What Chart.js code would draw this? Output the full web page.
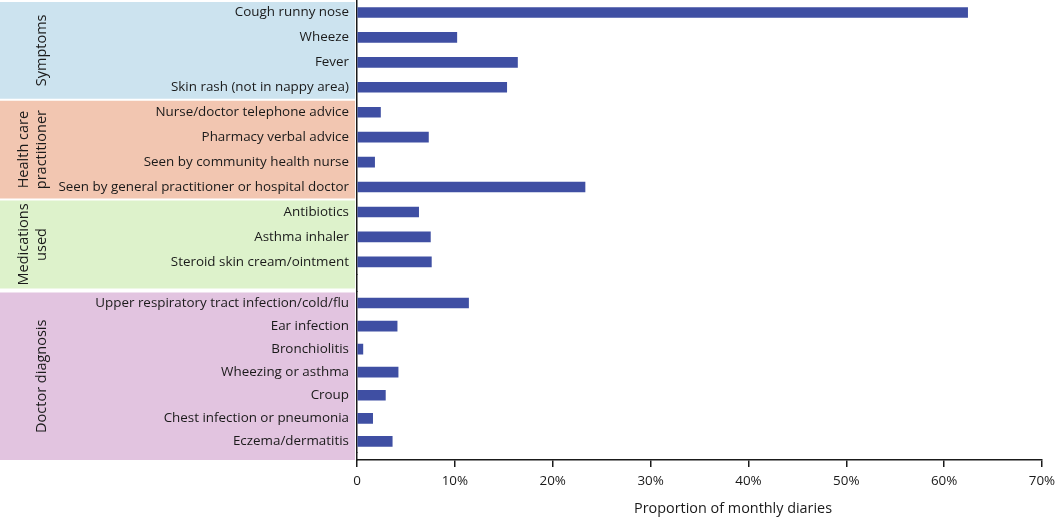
<!DOCTYPE html>
<html>
<head>
<meta charset="utf-8">
<script src="https://cdn.jsdelivr.net/npm/chart.js@4"></script>
<style>
  html, body { margin: 0; padding: 0; background: #fff; }
  #wrap { width: 1064px; height: 517px; position: relative; }
</style>
</head>
<body>
<div id="wrap"><canvas id="diaries"></canvas></div>
<script>
// data (percent of monthly diaries)
const upper_labels = [
    'Cough runny nose',
    'Wheeze',
    'Fever',
    'Skin rash (not in nappy area)',
    'Nurse/doctor telephone advice',
    'Pharmacy verbal advice',
    'Seen by community health nurse',
    'Seen by general practitioner or hospital doctor',
    'Antibiotics',
    'Asthma inhaler',
    'Steroid skin cream/ointment'
]
const upper_values = [62.4, 10.2, 16.4, 15.3, 2.4, 7.3, 1.8, 23.3, 6.3, 7.5, 7.6]

const lower_labels = [
    'Upper respiratory tract infection/cold/flu',
    'Ear infection',
    'Bronchiolitis',
    'Wheezing or asthma',
    'Croup',
    'Chest infection or pneumonia',
    'Eczema/dermatitis'
]
const lower_values = [11.4, 4.1, 0.6, 4.2, 2.9, 1.6, 3.6]

const group_names = [['Symptoms'], ['Health care', 'practitioner'], ['Medications', 'used'], ['Doctor diagnosis']]
const group_sizes = [4, 4, 3, 7]

const x_tick_labels = ['0', '10%', '20%', '30%', '40%', '50%', '60%', '70%']

const bar_color = '#3f4fa3'
const ink = '#1a1a1a'
const group_colors = ['#cce3ef', '#f2c6b1', '#ddf2cb', '#e2c4e0']
const font_family = '"Open Sans", Lato, sans-serif'

// coloured group panels + rotated group names, behind the axis labels
const group_panels = {
    id: 'groupPanels',
    beforeDraw(chart) {
        const ctx = chart.ctx
        const yU = chart.scales.y
        const yG = chart.scales.y_gap
        const yL = chart.scales.y_lower
        const step = yU.height / upper_labels.length
        const right = yU.right - 2
        const boxes = []
        let start = 0
        for (let g = 0; g < 3; g++) {
            const end = start + group_sizes[g]
            let top = yU.top + start * step + 1
            let bottom = yU.top + end * step - 1
            if (g == 0) top = Math.max(top, 2)
            if (g == 2) bottom = yG.bottom - 3
            boxes.push([top, bottom])
            start = end
        }
        boxes.push([yL.top + 1, chart.chartArea.bottom])

        ctx.save()
        ctx.fillStyle = '#fff'
        ctx.fillRect(0, 0, chart.width, chart.height)
        boxes.forEach(([top, bottom], g) => {
            ctx.fillStyle = group_colors[g]
            ctx.fillRect(0, top, right, bottom - top)

            const lines = group_names[g]
            const cy = (top + bottom) / 2
            ctx.fillStyle = ink
            ctx.font = '14.5px ' + font_family
            ctx.textAlign = 'center'
            ctx.textBaseline = 'middle'
            lines.forEach((line, i) => {
                const cx = 42 - (lines.length - 1 - i) * 18
                ctx.save()
                ctx.translate(cx, cy)
                ctx.rotate(-Math.PI / 2)
                ctx.fillText(line, 0, 0)
                ctx.restore()
            })
        })
        ctx.restore()
    },
    afterDraw(chart) {
        // axis title, sits right of the plot centre as in the figure
        const ctx = chart.ctx
        const xs = chart.scales.x
        ctx.save()
        ctx.fillStyle = ink
        ctx.font = '14.4px ' + font_family
        ctx.textAlign = 'center'
        ctx.textBaseline = 'middle'
        ctx.fillText('Proportion of monthly diaries', xs.left + xs.width * 0.549, 509)
        ctx.restore()
    }
}

const y_common = {
    type: 'category',
    position: 'left',
    stack: 'rows',
    offset: true,
    grid: { display: false, drawTicks: false },
    border: { display: true, color: ink, width: 1.5 },
    ticks: { color: ink, padding: 8, autoSkip: false, font: { family: font_family, size: 13.4 } },
    afterFit(scale) {
        scale.width = 357
        scale.paddingTop = 0
        scale.paddingBottom = 0
    }
}

const ctx1 = document.getElementById('diaries')
new Chart(ctx1, {
    type: 'bar',
    data: {
        labels: upper_labels,
        datasets: [{
            data: upper_values,
            yAxisID: 'y',
            grouped: false,
            backgroundColor: bar_color,
            barThickness: 10,
        }, {
            data: lower_values,
            yAxisID: 'y_lower',
            grouped: false,
            backgroundColor: bar_color,
            barThickness: 10,
        }]
    },
    options: {
        indexAxis: 'y',
        responsive: true,
        maintainAspectRatio: false,
        animation: false,
        layout: { padding: { top: 0, right: 22, left: 0, bottom: 0 } },
        plugins: {
            legend: { display: false },
            tooltip: { enabled: false }
        },
        scales: {
            x: {
                type: 'linear',
                min: 0,
                max: 70,
                ticks: {
                    stepSize: 10,
                    color: ink,
                    padding: 6,
                    maxRotation: 0,
                    font: { family: font_family, size: 13.4 },
                    callback: (value, i) => x_tick_labels[i]
                },
                grid: { drawOnChartArea: false, drawTicks: true, tickLength: 7, color: ink, lineWidth: 1.5 },
                border: { color: ink, width: 1.5 },
                afterFit(scale) { scale.height = 57 }
            },
            // stacked top to bottom: last defined goes on top
            y_foot: Object.assign({}, y_common, {
                labels: [''], stackWeight: 7.1, ticks: { display: false }
            }),
            y_lower: Object.assign({}, y_common, {
                labels: lower_labels, stackWeight: 161.4
            }),
            y_gap: Object.assign({}, y_common, {
                labels: [''], stackWeight: 17.2, ticks: { display: false }
            }),
            y: Object.assign({}, y_common, {
                labels: upper_labels, stackWeight: 274.3
            })
        }
    },
    plugins: [group_panels]
})
</script>
</body>
</html>
